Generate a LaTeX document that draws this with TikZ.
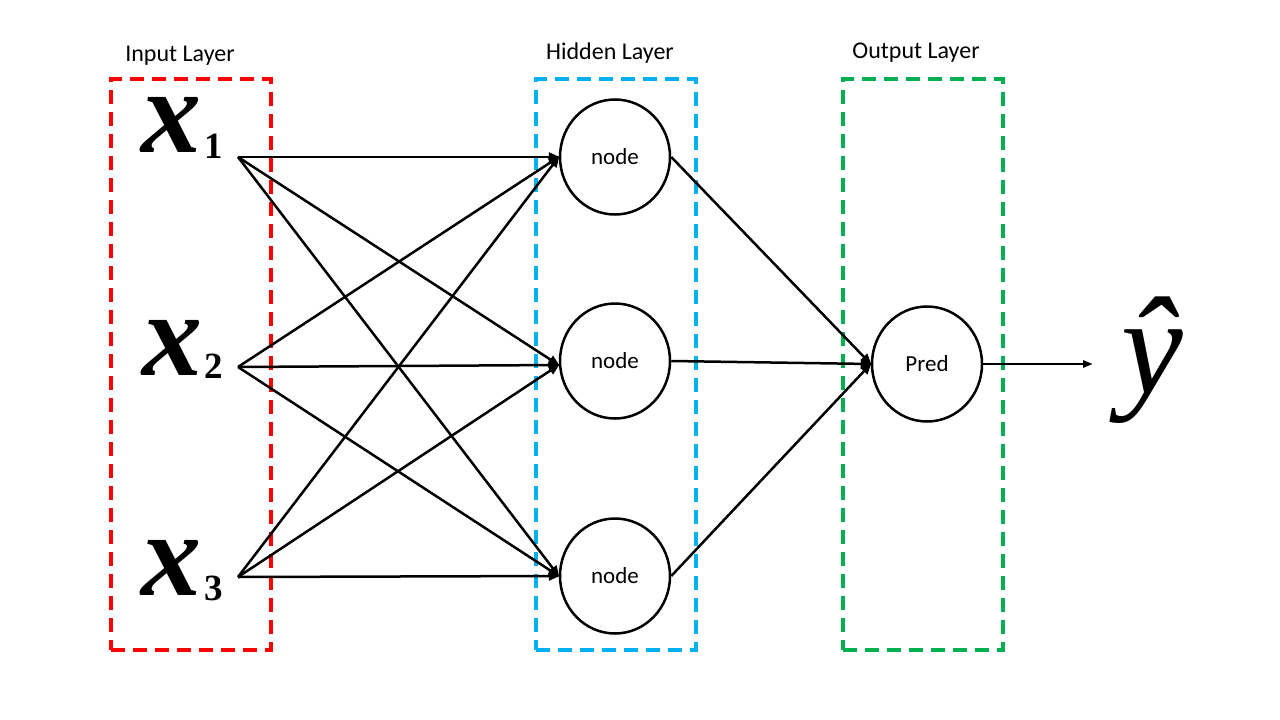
\documentclass[tikz,border=0pt]{standalone}
\usepackage{fontspec}
\setmainfont{Carlito}
\newfontfamily\symserif{Liberation Serif}
\usetikzlibrary{arrows.meta,shapes.geometric}
\definecolor{pptred}{RGB}{255,0,0}
\definecolor{pptblue}{RGB}{0,176,240}
\definecolor{pptgreen}{RGB}{0,176,80}
\begin{document}
\begin{tikzpicture}[x=1pt,y=-1pt,
  layerbox/.style={draw, line width=3.5pt, dash pattern=on 14pt off 8pt, minimum width=160pt, minimum height=571pt, inner sep=0pt},
  layerlabel/.style={font=\fontsize{24}{28}\selectfont, inner sep=0pt},
  neuron/.style={draw, ellipse, line width=2.5pt, minimum width=110pt, minimum height=115pt, inner sep=0pt, font=\fontsize{23}{26}\selectfont},
  bigx/.style={font=\symserif\bfseries\itshape\fontsize{120}{120}\selectfont, inner sep=0pt, anchor=base, text height=0.47em, text depth=0pt},
  subs/.style={font=\symserif\bfseries\fontsize{37}{37}\selectfont, inner sep=0pt, anchor=base},
  conn/.style={line width=2.5pt, -{Triangle[length=11pt,width=9pt]}, shorten >=-1pt},
  outarrow/.style={line width=2.5pt, -{Triangle[length=10pt,width=7pt]}}
]
\useasboundingbox[fill=white] (0,0) rectangle (1280,720);

% layer boxes
\node[layerbox, draw=pptred]   (inbox)  at (191,364.5) {};
\node[layerbox, draw=pptblue]  (hidbox) at (616,364.5) {};
\node[layerbox, draw=pptgreen] (outbox) at (923,364.5) {};

\node[layerlabel] (inlab)  at (180,56) {Input Layer};
\node[layerlabel] (hidlab) at (610,53) {Hidden Layer};
\node[layerlabel] (outlab) at (916,53) {Output Layer};

% inputs
\node[bigx] (xa) at (171,152) {x};
\node[bigx] (xb) at (172,375) {x};
\node[bigx] (xc) at (171,595) {x};
\node[subs] (sa) at (214,158) {1};
\node[subs] (sb) at (214,378) {2};
\node[subs] (sc) at (214,600) {3};

\coordinate (i1) at (238,157);
\coordinate (i2) at (238,367);
\coordinate (i3) at (238,577);

% hidden + output nodes
\node[neuron] (h1) at (615,157) {node};
\node[neuron] (h2) at (615,361) {node};
\node[neuron] (h3) at (615,576) {node};
\node[neuron] (p)  at (927,364) {Pred};

\coordinate (t1) at (h1.west);
\coordinate (t2) at ([yshift=-4pt]h2.west);
\coordinate (t3) at (h3.west);

\foreach \i in {1,2,3}{
  \foreach \j in {1,2,3}{
    \draw[conn] (i\i) -- (t\j);
  }
}

\foreach \j in {1,2,3}{
  \draw[conn] (h\j.east) -- (p.west);
}

\coordinate (yend) at (1093,364);
\draw[outarrow] (p.east) -- (yend);

\node[font=\symserif\itshape\fontsize{139}{139}\selectfont, inner sep=0pt, anchor=base] (yhat) at (1152,393) {ŷ};
\end{tikzpicture}
\end{document}
